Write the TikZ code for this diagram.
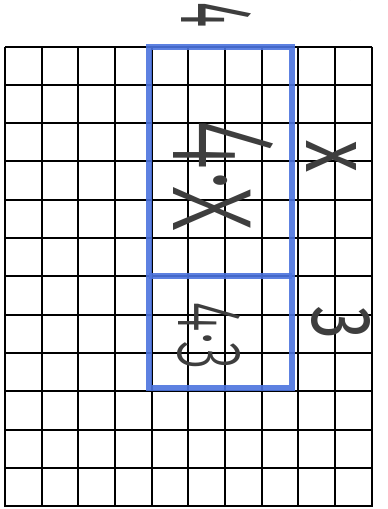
\documentclass[tikz,border=0pt]{standalone}
\usepackage{fontspec}
\setmainfont{Liberation Sans}
\newfontfamily\handfont{Fira Sans Light}
\newfontfamily\handbold{Fira Sans}
\definecolor{crayonblue}{RGB}{76,116,222}
\definecolor{pencil}{RGB}{62,62,62}
\newcommand{\hw}[3]{\rotatebox{-90}{\resizebox{#1}{#2}{\handfont #3}}}
\newcommand{\hwb}[3]{\rotatebox{-90}{\resizebox{#1}{#2}{\handbold #3}}}
\tikzset{
  gridline/.style={draw=black, line width=1pt},
  crayon/.style={draw=crayonblue, line width=3pt, opacity=0.9},
  hand/.style={inner sep=0pt, text=pencil},
}
\begin{document}
\begin{tikzpicture}[x=0.5pt,y=-0.5pt]
\useasboundingbox (0,0) rectangle (387,509);
\fill[white] (0,0) rectangle (387,509);
% faint scan artifact
\draw[black!10, line width=0.6pt] (350,0) arc[start angle=180, end angle=230, radius=45];
% grid
\foreach \i in {0,...,10} \draw[gridline] (5+36.67*\i,46.5) -- (5+36.67*\i,506.5);
\foreach \j in {0,...,12} \draw[gridline] (5,46.5+38.33*\j) -- (371.7,46.5+38.33*\j);
% blue rectangles
\draw[crayon] (149,47) rectangle (292,388);
\draw[crayon] (149,276) -- (292,276);
% labels
\node[hand] (four) at (217,15) {\hwb{12.5pt}{35pt}{4}};
\node[hand] (areaA) at (224,176) {\hw{56pt}{50pt}{4·x}};
\node[hand] (xlab) at (332,156) {\hwb{16pt}{25pt}{x}};
\node[hand] (areaB) at (209,336) {\hw{34pt}{31pt}{4·3}};
\node[hand] (three) at (341,323) {\hwb{16.5pt}{29pt}{3}};
\end{tikzpicture}
\end{document}
